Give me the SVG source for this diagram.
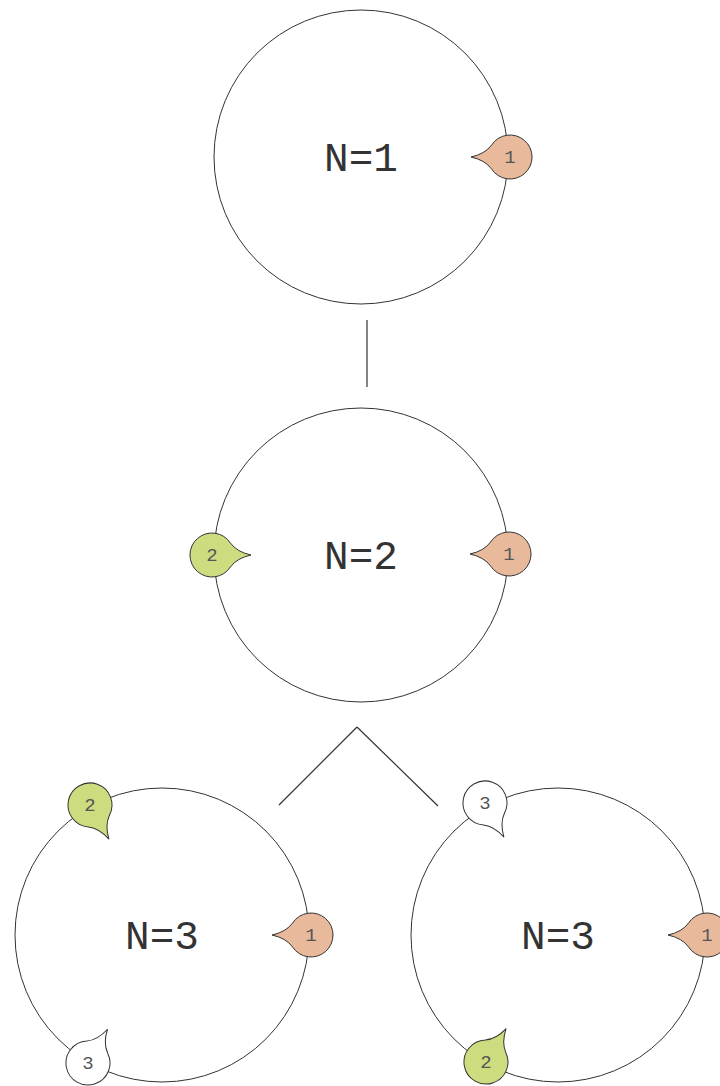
<svg xmlns="http://www.w3.org/2000/svg" xmlns:xlink="http://www.w3.org/1999/xlink" width="720" height="1086" viewBox="0 0 720 1086">
  <style>
    .ring { fill: none; stroke: #333; stroke-width: 1; }
    .edge { stroke: #333; stroke-width: 1.2; fill: none; }
    .label { font-family: "Courier New", "Liberation Mono", monospace; font-size: 41px; fill: #333; text-anchor: middle; }
    .num { font-family: "Courier New", "Liberation Mono", monospace; font-size: 19px; fill: #555; text-anchor: middle; }
    .b1 { fill: #e8b99b; stroke: #333; stroke-width: 1; }
    .b2 { fill: #cddc7f; stroke: #333; stroke-width: 1; }
    .b3 { fill: #ffffff; stroke: #333; stroke-width: 1; }
  </style>
  <defs>
    <!-- speech bubble, centre at origin, tail pointing along +x -->
    <path id="bubble" d="M 18.4 -12 A 22 22 0 1 0 18.4 12 Q 25 3 39 0 Q 25 -3 18.4 -12 Z"/>
  </defs>
  <rect width="720" height="1086" fill="#fff"/>

  <g id="connectors">
    <line class="edge" x1="367" y1="320" x2="367" y2="387"/>
    <line class="edge" x1="357" y1="727" x2="279" y2="805"/>
    <line class="edge" x1="357" y1="727" x2="438" y2="806"/>
  </g>

  <g id="node-n1">
    <circle class="ring" cx="361" cy="157" r="147"/>
    <text class="label" x="361" y="171">N=1</text>
    <use xlink:href="#bubble" class="b1" transform="translate(510 157) rotate(180)"/>
    <text class="num" x="510" y="163">1</text>
  </g>

  <g id="node-n2">
    <circle class="ring" cx="361" cy="555" r="147"/>
    <text class="label" x="361" y="569">N=2</text>
    <use xlink:href="#bubble" class="b1" transform="translate(509 554) rotate(180)"/>
    <text class="num" x="509" y="560">1</text>
    <use xlink:href="#bubble" class="b2" transform="translate(212 555)"/>
    <text class="num" x="212" y="561">2</text>
  </g>

  <g id="node-n3-left">
    <circle class="ring" cx="162" cy="935" r="147"/>
    <text class="label" x="162" y="949">N=3</text>
    <use xlink:href="#bubble" class="b1" transform="translate(311 935) rotate(180)"/>
    <text class="num" x="311" y="941">1</text>
    <use xlink:href="#bubble" class="b2" transform="translate(90 805) rotate(61)"/>
    <text class="num" x="90" y="811">2</text>
    <use xlink:href="#bubble" class="b3" transform="translate(88 1063) rotate(-60)"/>
    <text class="num" x="88" y="1069">3</text>
  </g>

  <g id="node-n3-right">
    <circle class="ring" cx="558" cy="935" r="147"/>
    <text class="label" x="558" y="949">N=3</text>
    <use xlink:href="#bubble" class="b1" transform="translate(707 935) rotate(180)"/>
    <text class="num" x="707" y="941">1</text>
    <use xlink:href="#bubble" class="b3" transform="translate(485 803) rotate(61)"/>
    <text class="num" x="485" y="809">3</text>
    <use xlink:href="#bubble" class="b2" transform="translate(486 1062) rotate(-59)"/>
    <text class="num" x="486" y="1068">2</text>
  </g>
</svg>
